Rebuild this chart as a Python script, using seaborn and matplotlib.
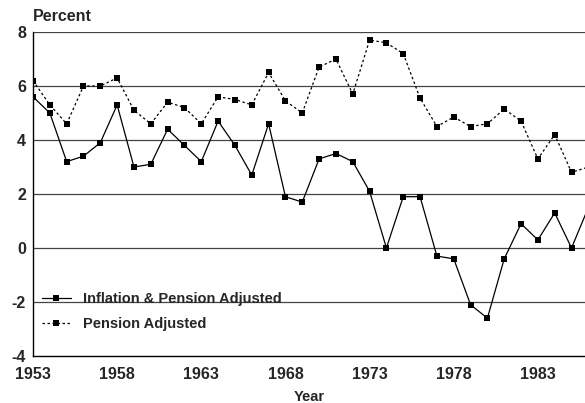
import pandas as pd
import matplotlib
matplotlib.use("Agg")
import matplotlib.pyplot as plt
import seaborn as sns

# Values
years = list(range(1953, 1987))
inflation_pension = [5.6, 5.0, 3.2, 3.4, 3.9, 5.3, 3.0, 3.1, 4.4, 3.8,
                     3.2, 4.7, 3.8, 2.7, 4.6, 1.9, 1.7, 3.3, 3.5, 3.2,
                     2.1, 0.0, 1.9, 1.9, -0.3, -0.4, -2.1, -2.6, -0.4, 0.9,
                     0.3, 1.3, 0.0, 1.5]
pension_only = [6.2, 5.3, 4.6, 6.0, 6.0, 6.3, 5.1, 4.6, 5.4, 5.2,
                4.6, 5.6, 5.5, 5.3, 6.5, 5.45, 5.0, 6.7, 7.0, 5.7,
                7.7, 7.6, 7.2, 5.55, 4.5, 4.85, 4.5, 4.6, 5.15, 4.7,
                3.3, 4.2, 2.8, 3.0]
series_names = ["Inflation & Pension Adjusted", "Pension Adjusted"]
x_ticks = [1953, 1958, 1963, 1968, 1973, 1978, 1983]
y_ticks = [-4, -2, 0, 2, 4, 6, 8]

df = pd.DataFrame({
    "Year": years * 2,
    "Percent": inflation_pension + pension_only,
    "Series": [series_names[0]] * len(years) + [series_names[1]] * len(years),
})

sns.set_style("white")
plt.rcParams["font.family"] = ["Liberation Sans", "DejaVu Sans"]
plt.rcParams["font.weight"] = "bold"
plt.rcParams["axes.unicode_minus"] = False

fig = plt.figure(figsize=(5.85, 4.03), dpi=100)
ax = fig.add_axes([0.0564, 0.1166, 0.9436, 0.804])

# grid lines at each 2 percent
for y in y_ticks[1:]:
    ax.axhline(y, color="#444444", lw=0.9, zorder=1)

sns.lineplot(data=df, x="Year", y="Percent", hue="Series", style="Series",
             palette=["black", "black"], dashes=[(None, None), (2, 2)],
             markers=["s", "s"], markersize=4, markeredgewidth=0,
             linewidth=0.9, ax=ax, zorder=3)

ax.set_xlim(1953, 1985.8)
ax.set_ylim(-4, 8)
ax.set_xticks(x_ticks)
ax.set_yticks(y_ticks)
ax.tick_params(axis="x", direction="in", length=5, width=0.9, labelsize=11.5, pad=8)
ax.tick_params(axis="y", length=0, labelsize=11.5, pad=5)
for lbl in ax.get_xticklabels() + ax.get_yticklabels():
    lbl.set_fontweight("bold")

for side in ["top", "right"]:
    ax.spines[side].set_visible(False)
for side in ["left", "bottom"]:
    ax.spines[side].set_color("black")
    ax.spines[side].set_linewidth(1.0)

ax.set_ylabel("")
ax.set_xlabel("Year", fontsize=10.5, fontweight="bold", labelpad=6)
ax.text(0.0, 1.025, "Percent", transform=ax.transAxes, fontsize=11.5,
        fontweight="bold", ha="left", va="bottom")

leg = ax.legend(loc="lower left", bbox_to_anchor=(0.0, 0.05), frameon=False,
                fontsize=10.5, handlelength=2.0, handletextpad=0.8,
                labelspacing=0.75, borderaxespad=0.2)
for t in leg.get_texts():
    t.set_fontweight("bold")

fig.savefig("out.png", dpi=100)
